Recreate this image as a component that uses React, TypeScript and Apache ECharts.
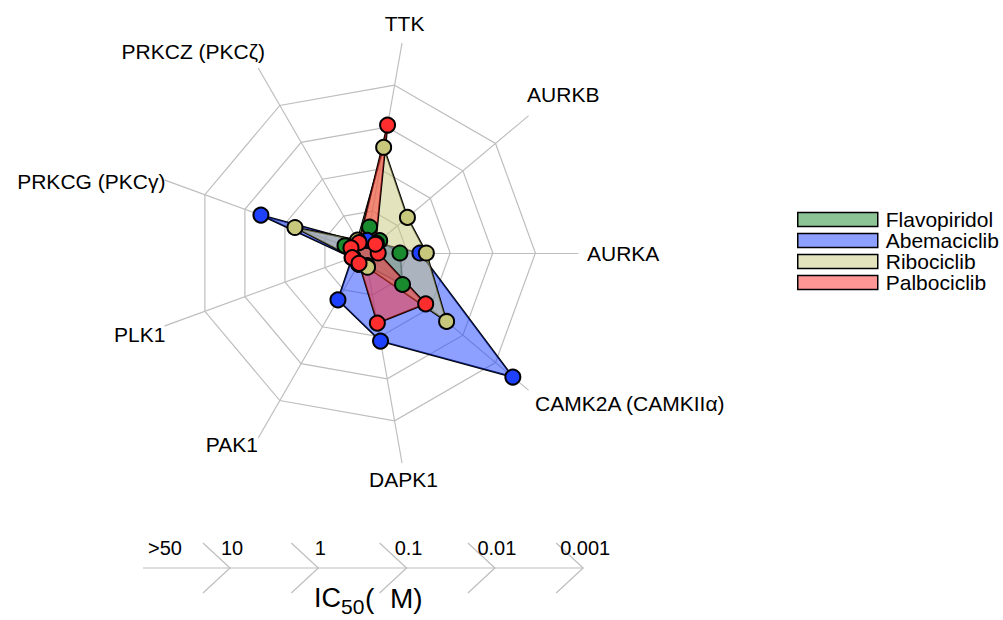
import React, { useEffect, useRef } from 'react';
import * as echarts from 'echarts';

// Kinases, read clockwise starting at the top axis
const kinases = ['TTK', 'AURKB', 'AURKA', 'CAMK2A (CAMKIIα)', 'DAPK1', 'PAK1', 'PLK1', 'PRKCG (PKCγ)', 'PRKCZ (PKCζ)'];
const drugs = ['Flavopiridol', 'Abemaciclib', 'Ribociclib', 'Palbociclib'];
// radial level: 0 = >50, 1 = 10, 2 = 1, 3 = 0.1, 4 = 0.01, 5 = 0.001 (IC50, µM)
const flavopiridol = [0.62, 0.45, 0.82, 1.15, 0.3, 0.3, 0.3, 0.5, 0.3];
const abemaciclib = [0.3, 0.35, 1.29, 4.53, 2.1, 1.27, 0.32, 2.6, 0.3];
const ribociclib = [2.52, 1.3, 1.44, 2.5, 0.34, 0.3, 0.3, 1.75, 0.35];
const palbociclib = [3.05, 0.32, 0.31, 1.86, 1.67, 0.28, 0.32, 0.35, 0.28];
const scaleLabels = ['>50', '10', '1', '0.1', '0.01', '0.001'];

const seriesValues = [flavopiridol, abemaciclib, ribociclib, palbociclib];
const pointColors = ['#198a2d', '#1e41ff', '#c8c87d', '#ff2d2d'];
const fillColors = ['rgba(25,138,45,0.5)', 'rgba(30,65,255,0.5)', 'rgba(200,200,125,0.5)', 'rgba(255,45,45,0.5)'];

const FONT = '"Liberation Sans", Arial, Helvetica, sans-serif';
const CX = 365;
const CY = 253;
const R = 213;
const START = 80;
const LEVELS = 5;
const GRID = '#bebebe';

// label placement style per kinase (clockwise order): align, vertical align, gap, nudge
const labelLayout: [string, string, number, number, number][] = [
  ['center', 'bottom', 9, 1, 0],
  ['left', 'bottom', 9, -8, -5],
  ['left', 'middle', 9, 0, 0],
  ['left', 'top', 9, 0, -3],
  ['center', 'top', 9, 0, -3],
  ['right', 'middle', 9, 4, -1],
  ['right', 'middle', 9, 9, 6],
  ['right', 'middle', 9, 9, 4],
  ['right', 'bottom', 9, 11, 1],
];

// ECharts places radar indicators counter-clockwise; reorder the clockwise lists
const ecOrder = kinases.map((_, i) => (i === 0 ? 0 : kinases.length - i));

export default function App() {
  const ref = useRef<HTMLDivElement>(null);
  useEffect(() => {
    if (!ref.current) return;
    const chart = echarts.init(ref.current, undefined, { renderer: 'svg' });
    const n = kinases.length;

    const labelGraphics = kinases.map((name, i) => {
      const a = ((START - (360 / n) * i) * Math.PI) / 180;
      const [align, vAlign, gap, dx, dy] = labelLayout[i];
      const d = R + gap;
      return {
        type: 'text',
        x: CX + d * Math.cos(a) + dx,
        y: CY - d * Math.sin(a) + dy,
        style: { text: name, fill: '#000', font: `21px ${FONT}`, align, verticalAlign: vAlign },
        z: 10,
      };
    });

    const scaleLeft = 143;
    const scaleY = 568;
    const firstChevron = 230;
    const step = 88.3;
    const chevrons = scaleLabels.slice(1).map((_, k) => {
      const x = firstChevron + k * step;
      return {
        type: 'polyline',
        shape: { points: [[x - 27, scaleY - 25], [x, scaleY], [x - 27, scaleY + 25]] },
        style: { stroke: GRID, lineWidth: 1.2, fill: 'none' },
      };
    });
    const scaleTexts = scaleLabels.map((t, i) => ({
      type: 'text',
      x: i === 0 ? scaleLeft + 5 : firstChevron + (i - 1) * step + 2,
      y: 548,
      style: { text: t, fill: '#000', font: `20px ${FONT}`, align: i === 0 ? 'left' : 'center', verticalAlign: 'middle' },
    }));

    chart.setOption({
      animation: false,
      backgroundColor: '#ffffff',
      radar: {
        center: [CX, CY],
        radius: R,
        startAngle: START,
        splitNumber: LEVELS,
        shape: 'polygon',
        indicator: ecOrder.map((i) => ({ name: kinases[i], min: 0, max: LEVELS })),
        axisName: { show: false },
        axisLine: { show: true, lineStyle: { color: GRID, width: 1.2 } },
        splitLine: { show: true, lineStyle: { color: [GRID, GRID, GRID, GRID, GRID, 'rgba(0,0,0,0)'], width: 1.2 } },
        splitArea: { show: false },
        axisTick: { show: false },
        axisLabel: { show: false },
      },
      legend: {
        orient: 'vertical',
        left: 797,
        top: 209,
        padding: 0,
        itemWidth: 80,
        itemHeight: 14,
        itemGap: 0,
        icon: 'rect',
        selectedMode: false,
        textStyle: { fontSize: 21, color: '#000', fontFamily: FONT, padding: [0, 0, 0, 3] },
        data: drugs.map((name, i) => ({
          name,
          icon: 'rect',
          itemStyle: { color: fillColors[i], borderColor: '#000', borderWidth: 1.5, opacity: 1 },
        })),
      },
      series: [
        {
          type: 'radar',
          z: 2,
          symbol: 'none',
          data: drugs.map((name, i) => ({
            name,
            value: ecOrder.map((k) => seriesValues[i][k]),
            symbol: 'none',
            itemStyle: { color: fillColors[i] },
            lineStyle: { color: '#000', width: 1.8 },
            areaStyle: { color: fillColors[i], opacity: 1 },
          })),
        },
        {
          type: 'radar',
          z: 3,
          symbol: 'circle',
          symbolSize: 15,
          data: drugs.map((name, i) => ({
            name,
            value: ecOrder.map((k) => seriesValues[i][k]),
            symbol: 'circle',
            symbolSize: 15,
            itemStyle: { color: pointColors[i], borderColor: '#000', borderWidth: 2, opacity: 1 },
            lineStyle: { width: 0, opacity: 0 },
          })),
        },
      ],
      graphic: [
        ...labelGraphics,
        {
          type: 'line',
          shape: { x1: scaleLeft, y1: scaleY, x2: firstChevron + 4 * step, y2: scaleY },
          style: { stroke: GRID, lineWidth: 1.2 },
        },
        ...chevrons,
        ...scaleTexts,
        {
          type: 'text',
          x: 314,
          y: 598,
          style: { text: 'IC', fill: '#000', font: `27px ${FONT}`, align: 'left', verticalAlign: 'middle' },
        },
        {
          type: 'text',
          x: 341,
          y: 606,
          style: { text: '50', fill: '#000', font: `21px ${FONT}`, align: 'left', verticalAlign: 'middle' },
        },
        {
          type: 'text',
          x: 365,
          y: 598,
          style: { text: '(', fill: '#000', font: `28px ${FONT}`, align: 'left', verticalAlign: 'middle' },
        },
        {
          type: 'text',
          x: 390,
          y: 598,
          style: { text: 'M)', fill: '#000', font: `28px ${FONT}`, align: 'left', verticalAlign: 'middle' },
        },
      ],
    });
    return () => chart.dispose();
  }, []);
  return <div ref={ref} style={{ position: 'fixed', left: 0, top: 0, width: 1003, height: 620 }} />;
}
